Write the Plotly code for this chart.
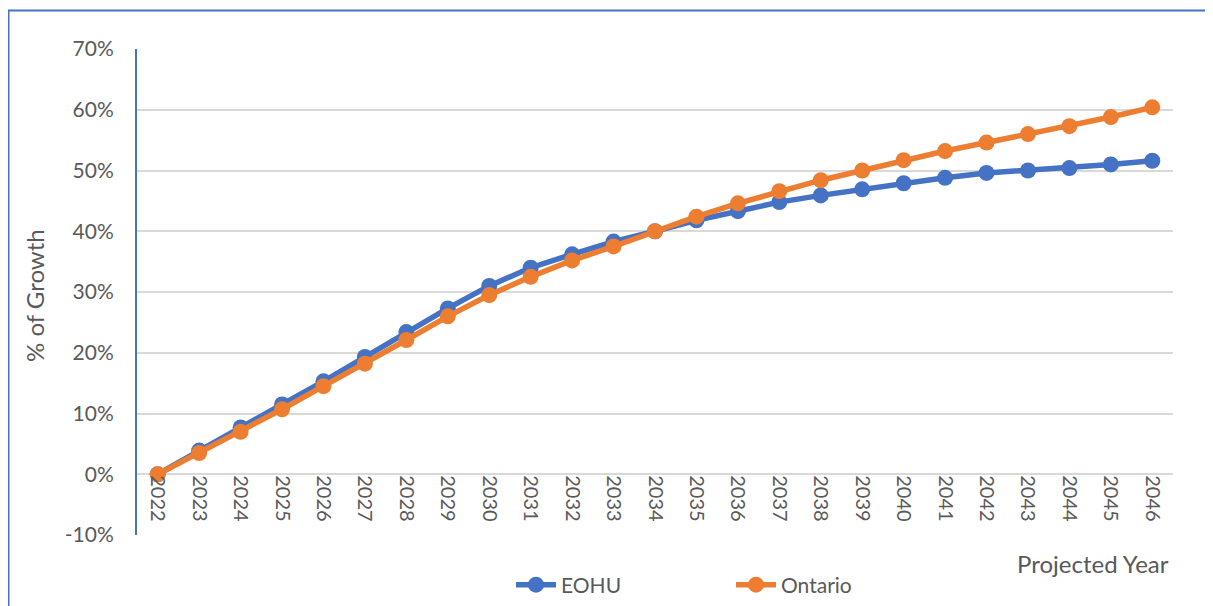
import plotly.graph_objects as go

years = [str(y) for y in range(2022, 2047)]
eohu = [0.0, 3.9, 7.7, 11.5, 15.3, 19.3, 23.4, 27.3, 31.0, 34.0, 36.2, 38.3, 40.0,
        41.8, 43.3, 44.8, 45.9, 46.9, 47.9, 48.8, 49.6, 50.0, 50.4, 51.0, 51.6]
ontario = [0.0, 3.5, 7.0, 10.7, 14.5, 18.2, 22.1, 26.0, 29.5, 32.5, 35.2, 37.5, 40.0,
           42.4, 44.6, 46.6, 48.4, 50.0, 51.7, 53.2, 54.6, 56.0, 57.3, 58.8, 60.4]
series_names = ["EOHU", "Ontario"]
colors = ["#4472C4", "#ED7D31"]
y_tick_values = [-10, 0, 10, 20, 30, 40, 50, 60, 70]
y_tick_labels = ["-10%", "0%", "10%", "20%", "30%", "40%", "50%", "60%", "70%"]

FONT = "Lato, Carlito, Calibri, sans-serif"
GREY = "#595959"

fig = go.Figure()
for name, vals, col in zip(series_names, [eohu, ontario], colors):
    fig.add_trace(go.Scatter(
        x=years, y=vals, name=name, mode="lines+markers",
        line=dict(color=col, width=5.5),
        marker=dict(color=col, size=16),
    ))

# page is offset by 8px; work in reference pixel coordinates
OFF = 8
W, H = 1205, 598
L, T = 137 - OFF, 49 - OFF
R = W - (1173 - OFF)
B = H - (535 - OFF)
pw, ph = W - L - R, H - T - B

def px_x(px):
    return (px - OFF - L) / pw

def px_y(py):
    return (H - B - (py - OFF)) / ph

def cont_x(px):
    return (px - OFF) / W

def cont_y(py):
    return 1 - (py - OFF) / H

fig.update_layout(
    width=W, height=H,
    margin=dict(l=L, r=R, t=T, b=B, autoexpand=False),
    paper_bgcolor="white", plot_bgcolor="white",
    font=dict(family=FONT, color=GREY, size=20),
    showlegend=True,
    legend=dict(orientation="h", xref="container", yref="container",
                x=cont_x(511), xanchor="left", y=cont_y(585), yanchor="middle",
                font=dict(size=21, color=GREY), entrywidth=165, itemwidth=40,
                bgcolor="rgba(0,0,0,0)"),
    xaxis=dict(type="category", range=[-0.5, 24.5], anchor="free", position=0.125,
               showgrid=False, showline=False, zeroline=False, tickangle=90,
               tickfont=dict(size=20, color=GREY), ticks="", automargin=False),
    yaxis=dict(range=[-10, 70], tickvals=y_tick_values, ticktext=y_tick_labels,
               showgrid=True, gridcolor="#D9D9D9", gridwidth=1.5, zeroline=False,
               showline=True, linecolor="#4472C4", linewidth=2, automargin=False,
               tickfont=dict(size=21, color=GREY), ticks="", ticklabelstandoff=17),
    annotations=[
        dict(text="Projected Year", xref="paper", yref="paper", x=px_x(1171), y=px_y(563),
             xanchor="right", yanchor="middle", showarrow=False, font=dict(size=24, color=GREY)),
        dict(text="% of Growth", xref="paper", yref="paper", x=px_x(34), y=px_y(296),
             xanchor="center", yanchor="middle", textangle=-90, showarrow=False,
             font=dict(size=24, color=GREY)),
    ],
    shapes=[
        dict(type="rect", xref="paper", yref="paper", x0=px_x(8.5), x1=px_x(1230),
             y0=px_y(625), y1=px_y(10.5), line=dict(color="#4472C4", width=2), layer="below"),
    ],
)

fig.write_html("out.html")
